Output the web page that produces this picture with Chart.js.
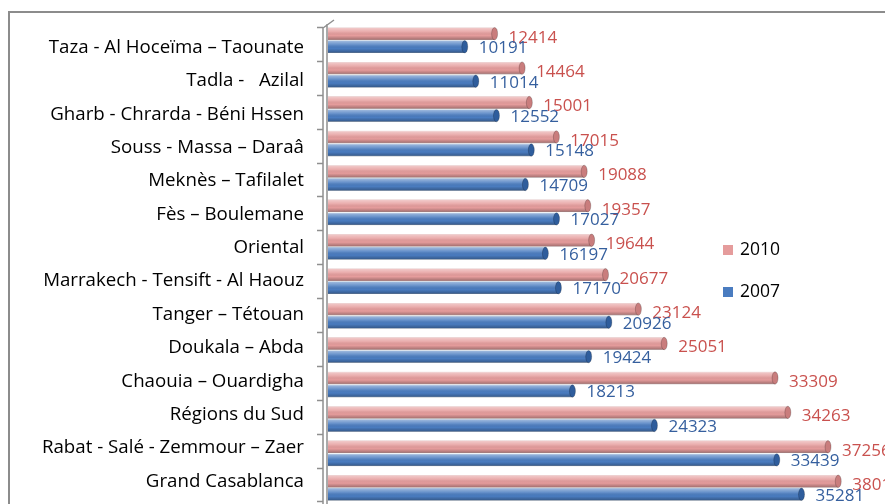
<!DOCTYPE html>
<html lang="fr">
<head>
  <meta charset="utf-8" />
  <title>Régions 2007 / 2010</title>
  <style>
html, body { margin: 0; padding: 0; overflow: hidden; background: #fff; }
#chartContainer {
  position: relative;
  width: 885px;
  height: 508px;
}
  </style>
</head>
<body>
  <div id="chartContainer">
    <canvas id="myChart"></canvas>
  </div>
  <script src="https://cdn.jsdelivr.net/npm/chart.js"></script>
  <script>

const regions = [
  'Taza - Al Hoceïma – Taounate',
  'Tadla -   Azilal',
  'Gharb - Chrarda - Béni Hssen',
  'Souss - Massa – Daraâ',
  'Meknès – Tafilalet',
  'Fès – Boulemane',
  'Oriental',
  'Marrakech - Tensift - Al Haouz',
  'Tanger – Tétouan',
  'Doukala – Abda',
  'Chaouia – Ouardigha',
  'Régions du Sud',
  'Rabat - Salé - Zemmour – Zaer',
  'Grand Casablanca'
];
const values2010 = [12414, 14464, 15001, 17015, 19088, 19357, 19644, 20677, 23124, 25051, 33309, 34263, 37256, 38016];
const values2007 = [10191, 11014, 12552, 15148, 14709, 17027, 16197, 17170, 20926, 19424, 18213, 24323, 33439, 35281];
const seriesNames = ['2010', '2007'];

const FONT = '"Open Sans"';
const barColors = ['#e59c9c', '#4a7cc0'];
const capColors = ['#c97d7d', '#2f5d9c'];
const textColors = ['#c9514e', '#355f9e'];

// cadre gris autour du graphique (coupé à droite et en bas comme l'original)
const framePlugin = {
  id: 'frame',
  beforeDraw(chart) {
    const c = chart.ctx;
    c.save();
    c.strokeStyle = '#8c8c8c';
    c.lineWidth = 2;
    c.strokeRect(9, 12, chart.width + 20, chart.height + 20);
    c.restore();
  }
};

// mur 3D à gauche + petites graduations
const wallPlugin = {
  id: 'wall',
  beforeDatasetsDraw(chart) {
    const c = chart.ctx;
    const a = chart.chartArea;
    const yb = chart.scales.y, yl = chart.scales.yL;
    c.save();
    c.strokeStyle = '#8f8f8f';
    c.lineWidth = 1.5;
    c.beginPath();
    c.moveTo(a.left - 5, a.top + 5);
    c.lineTo(a.left - 5, chart.height);
    c.moveTo(a.left - 1, a.top + 1);
    c.lineTo(a.left - 1, chart.height);
    c.moveTo(a.left - 5, a.top + 5);
    c.lineTo(a.left + 6, a.top - 3);
    for (let i = 0; i <= regions.length; i++) {
      const p1 = yb.getPixelForValue(i - 0.5);
      const p2 = yl.getPixelForValue(i - 0.5);
      const y = Math.round((p1 + p2) / 2) + 0.5;
      c.moveTo(a.left - 11, y);
      c.lineTo(a.left - 5, y);
    }
    c.stroke();
    c.restore();
  }
};

// effet cylindre + étiquettes de valeurs
const cylinderPlugin = {
  id: 'cylinder',
  afterDatasetsDraw(chart) {
    const c = chart.ctx;
    c.save();
    chart.data.datasets.forEach((ds, di) => {
      const meta = chart.getDatasetMeta(di);
      meta.data.forEach((bar, i) => {
        const p = bar.getProps(['x', 'y', 'base', 'height'], true);
        const top = p.y - p.height / 2;
        const g = c.createLinearGradient(0, top, 0, top + p.height);
        g.addColorStop(0, 'rgba(255,255,255,0.5)');
        g.addColorStop(0.35, 'rgba(255,255,255,0.15)');
        g.addColorStop(0.65, 'rgba(0,0,0,0)');
        g.addColorStop(1, 'rgba(0,0,0,0.3)');
        c.fillStyle = g;
        c.fillRect(p.base, top, p.x - p.base, p.height);
        // bout du cylindre
        c.beginPath();
        c.ellipse(p.x, p.y, 3, p.height / 2, 0, 0, Math.PI * 2);
        c.fillStyle = capColors[di];
        c.fill();
        c.strokeStyle = 'rgba(0,0,0,0.25)';
        c.lineWidth = 0.8;
        c.stroke();

        c.font = '17px ' + FONT;
        c.fillStyle = textColors[di];
        c.textAlign = 'left';
        c.textBaseline = 'middle';
        c.fillText(String(ds.data[i]), p.x + 14, p.y + (di === 0 ? 4 : 1.5));
      });
    });
    c.restore();
  }
};

// légende placée à la main comme dans Excel
const legendPlugin = {
  id: 'manualLegend',
  afterDraw(chart) {
    const c = chart.ctx;
    const a = chart.chartArea;
    c.save();
    c.font = '17.5px ' + FONT;
    c.textAlign = 'left';
    c.textBaseline = 'middle';
    chart.data.datasets.forEach((ds, di) => {
      const y = 250 + di * 42;
      c.fillStyle = barColors[di];
      c.fillRect(a.left + 395, y - 5, 10, 10);
      c.fillStyle = '#000';
      c.fillText(ds.label, a.left + 412, y);
    });
    c.restore();
  }
};

const ctx = document.getElementById('myChart');
const chart = new Chart(ctx, {
  type: 'bar',
  data: {
    labels: regions,
    datasets: [{
      label: seriesNames[0],
      data: values2010,
      backgroundColor: barColors[0],
      borderColor: '#b77070',
      borderWidth: 0.5,
      categoryPercentage: 0.76,
      barPercentage: 0.95
    }, {
      label: seriesNames[1],
      data: values2007,
      backgroundColor: barColors[1],
      borderColor: '#2b5590',
      borderWidth: 0.5,
      categoryPercentage: 0.76,
      barPercentage: 0.95
    }]
  },
  options: {
    indexAxis: 'y',
    responsive: true,
    maintainAspectRatio: false,
    animation: false,
    layout: { padding: { top: 23, bottom: 3, left: 0, right: 0 } },
    plugins: {
      legend: { display: false },
      tooltip: { enabled: false }
    },
    scales: {
      x: {
        display: false,
        min: 0,
        max: 41500
      },
      y: {
        display: false
      },
      // axe des libellés, espacement un peu plus serré que les barres (perspective Excel)
      yL: {
        type: 'linear',
        position: 'left',
        reverse: true,
        offset: false,
        min: -0.735,
        max: 13.71,
        afterBuildTicks: function (scale) {
          scale.ticks = regions.map((_, i) => ({ value: i }));
        },
        afterFit: function (scale) {
          scale.width = 328;
          scale.paddingTop = 0;
          scale.paddingBottom = 0;
        },
        grid: { display: false, drawTicks: false },
        border: { display: false },
        ticks: {
          autoSkip: false,
          padding: 24,
          color: '#000',
          font: { family: FONT, size: 18.7 },
          callback: function (value) {
            return regions[value] !== undefined ? regions[value] : '';
          }
        }
      }
    }
  },
  plugins: [framePlugin, wallPlugin, cylinderPlugin, legendPlugin]
});

  </script>
</body>
</html>
